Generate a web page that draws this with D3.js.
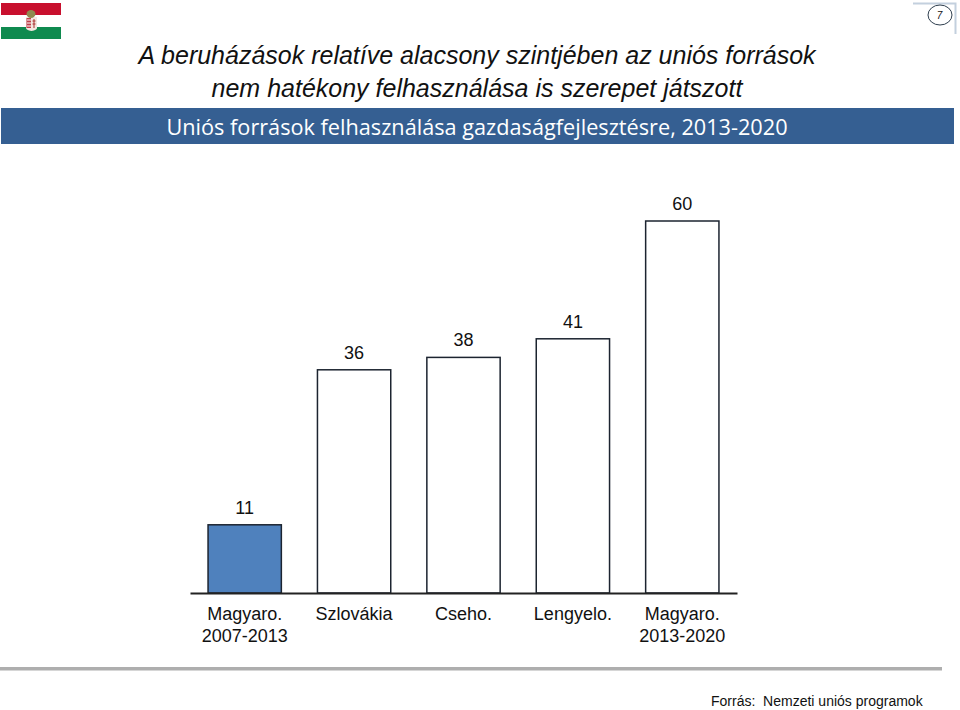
<!DOCTYPE html>
<html>
<head>
<meta charset="utf-8">
<script src="https://d3js.org/d3.v7.min.js"></script>
<style>
  html, body { margin: 0; padding: 0; background: #fff; }
  svg { display: block; }
  text { font-family: "Liberation Sans", Arial, sans-serif; fill: #111; white-space: pre; }
</style>
</head>
<body>
<svg id="chart" width="960" height="710"></svg>
<script>
const categories = ["Magyaro. 2007-2013", "Szlovákia", "Cseho.", "Lengyelo.", "Magyaro. 2013-2020"];
const tickLines = [["Magyaro.", "2007-2013"], ["Szlovákia"], ["Cseho."], ["Lengyelo."], ["Magyaro.", "2013-2020"]];
const values = [11, 36, 38, 41, 60];
const barColors = ["#4f81bd", "#ffffff", "#ffffff", "#ffffff", "#ffffff"];
const titleLines = ["A beruházások relatíve alacsony szintjében az uniós források", "nem hatékony felhasználása is szerepet játszott"];
const subtitle = "Uniós források felhasználása gazdaságfejlesztésre, 2013-2020";
const source = "Forrás:  Nemzeti uniós programok";
const pageNumber = "7";

const svg = d3.select("#chart");

// fejléc
const flag = svg.append("g").attr("class", "flag");
flag.append("rect").attr("x", 1).attr("y", 3).attr("width", 60).attr("height", 12).attr("fill", "#c8102e");
flag.append("rect").attr("x", 1).attr("y", 27).attr("width", 60).attr("height", 12).attr("fill", "#0f8a4f");
// címer
flag.append("path").attr("d", "M26 17h11v11q0 2-5.500 3q-5.500-1-5.500-3z").attr("fill", "#f3e6e0");
flag.append("path").attr("d", "M26.500 18h4.500v10h-4.500z").attr("fill", "#c0404a");
flag.append("path").attr("d", "M27 20h4M27 23h4M27 26h4").attr("stroke", "#fff").attr("stroke-width", 1);
flag.append("path").attr("d", "M34 19v9M32.500 21h3M32.500 24h3").attr("stroke", "#a33").attr("stroke-width", 1);
flag.append("ellipse").attr("cx", 31).attr("cy", 14).attr("rx", 4.500).attr("ry", 4).attr("fill", "#8f8a50");

svg.append("path").attr("d", "M913 3.500H955.500V34").attr("fill", "none").attr("stroke", "#c3d0de").attr("stroke-width", 2);
svg.append("ellipse").attr("cx", 940).attr("cy", 15).attr("rx", 12).attr("ry", 10)
  .attr("fill", "#fff").attr("stroke", "#2f3f4f").attr("stroke-width", 1);
svg.append("text").attr("x", 939.500).attr("y", 19).attr("text-anchor", "middle")
  .attr("font-size", 10).attr("font-style", "italic").text(pageNumber);

svg.append("g").selectAll("text").data(titleLines).join("text")
  .attr("x", 477)
  .attr("y", (d, i) => 64 + i * 33)
  .attr("text-anchor", "middle")
  .attr("font-size", 25)
  .attr("font-style", "italic")
  .text(d => d);

svg.append("rect").attr("x", 1).attr("y", 108).attr("width", 953).attr("height", 36).attr("fill", "#355f92");
svg.append("text").attr("x", 477).attr("y", 135).attr("text-anchor", "middle")
  .attr("font-size", 21.700).style("font-family", "'Open Sans'").style("fill", "#fff").text(subtitle);

// skálák
const x = d3.scaleBand().domain(categories).range([190, 737]).paddingInner(0.33).paddingOuter(0.165);
const y = d3.scaleLinear().domain([0, 60]).range([593, 221]);

// oszlopok
svg.append("g").selectAll("rect").data(values).join("rect")
  .attr("x", (d, i) => x(categories[i]))
  .attr("y", d => y(d))
  .attr("width", x.bandwidth())
  .attr("height", d => y(0) - y(d))
  .attr("fill", (d, i) => barColors[i])
  .attr("stroke", "#1c2430")
  .attr("stroke-width", 1.500);

// értékek
svg.append("g").selectAll("text").data(values).join("text")
  .attr("x", (d, i) => x(categories[i]) + x.bandwidth() / 2)
  .attr("y", d => y(d) - 11)
  .attr("text-anchor", "middle")
  .attr("font-size", 18)
  .text(d => d);

// tengely
const axis = svg.append("g").attr("transform", `translate(0,${y(0)})`)
  .call(d3.axisBottom(x).tickSize(0).tickFormat(""));
axis.select(".domain").attr("stroke", "#222").attr("stroke-width", 2);

const labels = svg.append("g").selectAll("text").data(categories).join("text")
  .attr("text-anchor", "middle")
  .attr("font-size", 18);
labels.each(function(d, i) {
  d3.select(this).selectAll("tspan").data(tickLines[i]).join("tspan")
    .attr("x", x(d) + x.bandwidth() / 2)
    .attr("y", (t, j) => 620 + j * 21.500)
    .text(t => t);
});

// lábléc
svg.append("rect").attr("x", 0).attr("y", 667).attr("width", 942).attr("height", 3.500).attr("fill", "#aeaeae");
svg.append("text").attr("x", 711).attr("y", 706).attr("font-size", 14).text(source);
</script>
</body>
</html>
